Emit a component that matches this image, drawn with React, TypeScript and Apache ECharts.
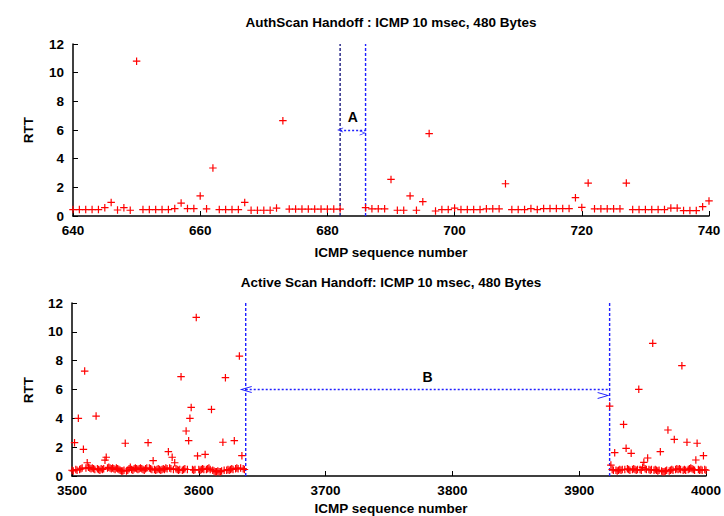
import React, { useEffect, useRef } from "react";
import * as echarts from "echarts";

// ---------------- data ----------------
// Top panel: AuthScan handoff (consecutive ICMP sequence numbers per segment)
const topStartA = 640;
const topRttA = [
  0.45, 0.45, 0.45, 0.45, 0.45, 0.58, 0.95, 0.42, 0.58, 0.4,
  10.8, 0.45, 0.45, 0.45, 0.45, 0.45, 0.52, 0.9, 0.52, 0.52,
  1.4, 0.5, 3.35, 0.45, 0.45, 0.45, 0.45, 0.95, 0.4, 0.4,
  0.4, 0.4, 0.55, 6.65, 0.48, 0.48, 0.48, 0.48, 0.48, 0.48,
  0.48, 0.48, 0.48,
];
const topStartB = 686;
const topRttB = [
  0.58, 0.5, 0.5, 0.5, 2.55, 0.4, 0.4, 1.4, 0.4, 1.0,
  5.75, 0.35, 0.45, 0.45, 0.55, 0.45, 0.45, 0.45, 0.45, 0.5,
  0.5, 0.5, 2.25, 0.45, 0.45, 0.45, 0.52, 0.45, 0.52, 0.52,
  0.52, 0.52, 0.52, 1.28, 0.6, 2.3, 0.5, 0.5, 0.5, 0.5,
  0.5, 2.3, 0.45, 0.45, 0.45, 0.45, 0.45, 0.45, 0.55, 0.55,
  0.38, 0.38, 0.38, 0.65, 1.05,
];
// Bottom panel: Active scan handoff
const botStartA = 3500;
const botRttA = [
  0.4, 0.35, 2.31, 0.45, 0.4, 4.0, 0.45, 0.5, 0.55, 1.85,
  7.28, 0.55, 0.92, 0.6, 0.55, 0.5, 0.55, 0.5, 0.45, 4.16,
  0.5, 0.45, 0.4, 0.5, 0.45, 0.5, 1.1, 1.3, 0.55, 0.6,
  0.55, 0.5, 0.55, 0.5, 0.45, 0.55, 0.5, 0.45, 0.4, 0.35,
  0.35, 0.4, 2.27, 0.35, 0.4, 0.5, 0.6, 0.45, 0.4, 0.5,
  0.55, 0.5, 0.45, 0.5, 0.55, 0.5, 0.45, 0.4, 0.5, 0.55,
  2.31, 0.55, 0.5, 0.45, 1.06, 0.45, 0.4, 0.45, 0.5, 0.45,
  0.4, 0.45, 0.5, 0.45, 0.55, 0.5, 1.69, 0.55, 0.5, 1.3,
  0.45, 0.92, 0.5, 0.45, 0.4, 0.45, 6.89, 0.4, 0.45, 0.5,
  3.12, 0.45, 2.45, 4.0, 4.76, 0.45, 0.4, 0.45, 11.0, 1.39,
  0.45, 0.4, 0.45, 0.5, 0.45, 1.5, 0.45, 0.5, 0.55, 0.45,
  4.62, 0.4, 0.35, 0.3, 0.3, 0.35, 0.3, 0.3, 0.35, 2.34,
  0.4, 6.82, 0.4, 0.45, 0.4, 0.45, 0.5, 0.45, 2.45, 0.5,
  0.55, 0.5, 8.32, 0.55, 1.41, 0.5, 0.45,
];
const botStartB = 3924;
const botRttB = [
  4.85, 0.76, 0.45, 0.4, 1.62, 0.4, 0.35, 0.4, 0.45, 0.4,
  0.45, 3.58, 0.45, 1.92, 0.5, 0.45, 0.4, 1.57, 0.45, 0.5,
  0.45, 0.4, 0.45, 6.01, 0.45, 0.4, 0.6, 0.95, 0.5, 0.45,
  1.25, 0.45, 0.4, 0.45, 9.2, 0.4, 0.45, 0.4, 0.35, 0.4,
  1.69, 0.35, 0.3, 0.3, 0.35, 0.4, 3.19, 0.35, 0.4, 0.45,
  0.4, 2.54, 0.45, 0.5, 0.45, 0.5, 0.45, 7.65, 0.4, 0.45,
  0.4, 2.34, 0.45, 0.5, 0.55, 0.5, 0.45, 0.4, 1.11, 2.27,
  0.45, 0.4, 0.45, 0.4, 1.41, 0.45, 0.4,
];

// handoff markers
const topHandoff = [682, 686];
const botHandoff = [3637, 3924];
const arrowLevel = 6;
const yRange = [0, 12];
const handoffLabels = ["A", "B"];

const titles = [
  "AuthScan Handoff : ICMP 10 msec, 480 Bytes",
  "Active Scan Handoff: ICMP 10 msec, 480 Bytes",
];
const xName = "ICMP sequence number";
const yName = "RTT";

// ---------------- helpers ----------------
const FONT = "'Liberation Sans', Arial, Helvetica, sans-serif";
const PLUS = "path://M4.2,0H5.8V4.2H10V5.8H5.8V10H4.2V5.8H0V4.2H4.2Z";
const CHEVRON = "path://M5,0L10,10L8.4,10L5,2.6L1.6,10L0,10Z";
const BLUE = "#1f1fff";

const toPairs = (start: number, vals: number[]) =>
  vals.map((v, i) => [start + i, v]);

const axisText = { color: "#000", fontSize: 13.5, fontWeight: "bold" as const, fontFamily: FONT };

const makeX = (gridIndex: number, min: number, max: number, interval: number) => ({
  type: "value",
  gridIndex,
  min,
  max,
  interval,
  axisLine: { show: true, onZero: false, lineStyle: { color: "#000", width: 1.5 } },
  axisTick: { show: true, inside: true, length: 5, lineStyle: { color: "#000", width: 1 } },
  axisLabel: {
    ...axisText,
    margin: 7,
    showMaxLabel: true,
    showMinLabel: true,
    formatter: (v: number) => String(v),
  },
  splitLine: { show: false },
});

const makeY = (gridIndex: number) => ({
  type: "value",
  gridIndex,
  min: 0,
  max: 12,
  interval: 2,
  axisLine: { show: true, lineStyle: { color: "#000", width: 1.5 } },
  axisTick: { show: true, inside: true, length: 5, lineStyle: { color: "#000", width: 1 } },
  axisLabel: { ...axisText, margin: 9, formatter: (v: number) => String(v) },
  splitLine: { show: false },
});

const vLineSeries = (idx: number, x: number, color: string) => ({
  type: "line",
  xAxisIndex: idx,
  yAxisIndex: idx,
  data: [
    [x, yRange[0]],
    [x, yRange[1]],
  ],
  symbol: "none",
  silent: true,
  lineStyle: { color, width: 1.4, type: [3, 2] },
  itemStyle: { color },
  z: 3,
});

const arrowSeries = (idx: number, xs: number[], label: string, headSize: number[]) => ({
  type: "line",
  xAxisIndex: idx,
  yAxisIndex: idx,
  data: [],
  symbol: "none",
  silent: true,
  itemStyle: { color: BLUE },
  lineStyle: { color: BLUE },
  markLine: {
    silent: true,
    animation: false,
    symbol: [CHEVRON, CHEVRON],
    symbolSize: headSize,
    symbolOffset: [0, headSize[1] / 2],
    itemStyle: { color: BLUE },
    lineStyle: { color: BLUE, type: [2, 2], width: 1.3 },
    label: {
      show: true,
      position: "middle",
      formatter: label,
      distance: 6,
      color: "#000",
      fontSize: 14,
      fontWeight: "bold",
      fontFamily: FONT,
    },
    data: [[{ coord: [xs[0], arrowLevel] }, { coord: [xs[1], arrowLevel] }]],
  },
});

const scatterSeries = (idx: number, data: number[][]) => ({
  type: "scatter",
  xAxisIndex: idx,
  yAxisIndex: idx,
  data,
  symbol: PLUS,
  symbolSize: 7.5,
  itemStyle: { color: "#ff0000", opacity: 1 },
  silent: true,
  z: 4,
});

const textEl = (text: string, x: number, y: number, rotation = 0) => ({
  type: "text",
  x,
  y,
  rotation,
  silent: true,
  style: {
    text,
    fill: "#000",
    fontSize: 13.5,
    fontWeight: "bold",
    fontFamily: FONT,
    align: "center",
    verticalAlign: "middle",
    textAlign: "center",
    textVerticalAlign: "middle",
  },
});

export default function App() {
  const ref = useRef<HTMLDivElement>(null);

  useEffect(() => {
    if (!ref.current) return;
    const chart = echarts.init(ref.current, undefined, { renderer: "svg" });
    const option: any = {
      animation: false,
      backgroundColor: "#fff",
      grid: [
        { left: 73, top: 44, width: 636, height: 172 },
        { left: 72, top: 303, width: 637, height: 173 },
      ],
      xAxis: [makeX(0, 640, 740, 20), makeX(1, 3500, 4000, 100)],
      yAxis: [makeY(0), makeY(1)],
      series: [
        vLineSeries(0, topHandoff[0], "#1a1a80"),
        vLineSeries(0, topHandoff[1], BLUE),
        arrowSeries(0, topHandoff, handoffLabels[0], [5, 6]),
        scatterSeries(0, toPairs(topStartA, topRttA)),
        scatterSeries(0, toPairs(topStartB, topRttB)),
        vLineSeries(1, botHandoff[0], BLUE),
        vLineSeries(1, botHandoff[1], BLUE),
        arrowSeries(1, botHandoff, handoffLabels[1], [7, 12]),
        scatterSeries(1, toPairs(botStartA, botRttA)),
        scatterSeries(1, toPairs(botStartB, botRttB)),
      ],
      graphic: [
        textEl(titles[0], 391, 22.5),
        textEl(xName, 391, 252.5),
        textEl(yName, 28, 130, Math.PI / 2),
        textEl(titles[1], 391, 282),
        textEl(xName, 391, 508),
        textEl(yName, 28, 390, Math.PI / 2),
      ],
    };
    chart.setOption(option);
    return () => chart.dispose();
  }, []);

  return (
    <div
      ref={ref}
      style={{ position: "fixed", left: 0, top: 0, width: 724, height: 516, background: "#fff" }}
    />
  );
}
